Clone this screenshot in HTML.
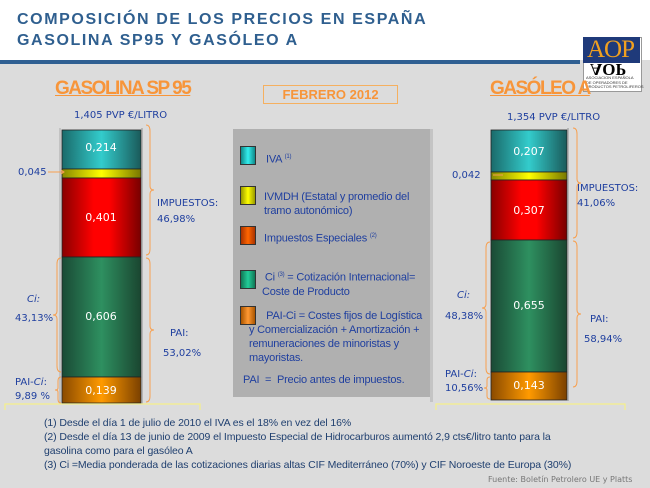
<!DOCTYPE html>
<html><head><meta charset="utf-8"><style>
html,body{margin:0;padding:0}
body{width:650px;height:488px;overflow:hidden;position:relative;background:#dcdcdc;font-family:"Liberation Sans",sans-serif}
.a{position:absolute;white-space:nowrap}
.c{font-family:"Comic Sans MS","DejaVu Sans",sans-serif;color:#1f3f9f;font-size:10px}
.lg{color:#1f3f9f;font-size:11px;line-height:14px;letter-spacing:-0.2px}
.sw{position:absolute;width:14px;height:17px;border:1px solid #333;left:240px}
.fn{color:#1f3f6f;font-size:10.5px;letter-spacing:-0.1px}
</style></head><body>
<div class="a" style="left:0;top:0;width:650px;height:60px;background:#fff"></div>
<div class="a" style="left:17px;top:9px;font-size:16px;font-weight:bold;color:#2f5f8f;letter-spacing:1.6px;line-height:21px">COMPOSICIÓN DE LOS PRECIOS EN ESPAÑA<br>GASOLINA SP95 Y GASÓLEO A</div>
<div class="a" style="left:0;top:60px;width:580px;height:4px;background:#2f5f92"></div>
<div class="a" style="left:583px;top:37px;width:57px;height:53px;background:#fff;border:1px solid #999"></div>
<div class="a" style="left:583px;top:37px;width:57px;height:26px;background:#1f3a7a"></div>
<div class="a" style="left:587px;top:36px;font-family:'Liberation Serif',serif;font-size:25px;color:#f0a020;letter-spacing:-1px">AOP</div>
<div class="a" style="left:590px;top:59px;font-family:'Liberation Serif',serif;font-size:17px;font-weight:bold;color:#000;transform:scaleY(-1)">AOP</div>
<div class="a" style="left:586px;top:76px;font-size:4px;color:#333;line-height:4.5px">ASOCIACION ESPAÑOLA<br>DE OPERADORES DE<br>PRODUCTOS PETROLIFEROS</div>

<div class="a" style="left:55px;top:78px;font-size:19px;font-weight:bold;color:#f7953a;letter-spacing:-1.5px;text-decoration:underline">GASOLINA SP 95</div>
<div class="a" style="left:490px;top:78px;font-size:19px;font-weight:bold;color:#f7953a;letter-spacing:-1.5px;text-decoration:underline">GASÓLEO A</div>
<div class="a" style="left:263px;top:85px;width:133px;height:17px;border:1px solid #f5b060;color:#f7953a;font-size:13px;font-weight:bold;text-align:center;line-height:17px">FEBRERO 2012</div>
<div class="a c" style="left:74px;top:110px">1,405 PVP €/LITRO</div>
<div class="a c" style="left:507px;top:112px">1,354 PVP €/LITRO</div>

<svg class="a" style="left:0;top:0" width="650" height="488">
<defs>
<linearGradient id="gc" x1="0" x2="1"><stop offset="0" stop-color="#1a6a6a"/><stop offset=".5" stop-color="#33cccc"/><stop offset="1" stop-color="#1a5a5a"/></linearGradient>
<linearGradient id="gy" x1="0" x2="1"><stop offset="0" stop-color="#888800"/><stop offset=".5" stop-color="#ffff00"/><stop offset="1" stop-color="#777700"/></linearGradient>
<linearGradient id="gr" x1="0" x2="1"><stop offset="0" stop-color="#880000"/><stop offset=".4" stop-color="#ff0000"/><stop offset=".6" stop-color="#ff0000"/><stop offset="1" stop-color="#770000"/></linearGradient>
<linearGradient id="gg" x1="0" x2="1"><stop offset="0" stop-color="#1a4a35"/><stop offset=".5" stop-color="#2e9060"/><stop offset="1" stop-color="#1a4530"/></linearGradient>
<linearGradient id="go" x1="0" x2="1"><stop offset="0" stop-color="#8a4a00"/><stop offset=".5" stop-color="#ff9a00"/><stop offset="1" stop-color="#7a4000"/></linearGradient>
</defs>
<rect x="233" y="129" width="199" height="268" fill="#b0b0b0"/>
<rect x="430" y="129" width="3" height="273" fill="#c4c4c4"/>
<g stroke="#222" stroke-width="0.8">
<rect x="62" y="130" width="79" height="39" fill="url(#gc)"/>
<rect x="62" y="169" width="79" height="9" fill="url(#gy)"/>
<rect x="62" y="178" width="79" height="79" fill="url(#gr)"/>
<rect x="62" y="257" width="79" height="120" fill="url(#gg)"/>
<rect x="62" y="377" width="79" height="26" fill="url(#go)"/>
<rect x="491" y="130" width="76" height="42" fill="url(#gc)"/>
<rect x="491" y="172" width="76" height="8" fill="url(#gy)"/>
<rect x="491" y="180" width="76" height="60" fill="url(#gr)"/>
<rect x="491" y="240" width="76" height="132" fill="url(#gg)"/>
<rect x="491" y="372" width="76" height="28" fill="url(#go)"/>
</g>
<line x1="142" y1="128" x2="142" y2="404" stroke="#aaa" stroke-width="1.5"/>
<line x1="60" y1="128" x2="60" y2="404" stroke="#aaa" stroke-width="1"/>
<line x1="568" y1="128" x2="568" y2="401" stroke="#aaa" stroke-width="1.5"/>
<g fill="none" stroke="#f7a050" stroke-width="1">
<path d="M146,125 q4,0 4,6 v55 q0,4 4,4 q-4,0 -4,4 v55 q0,6 -4,6"/>
<path d="M146,258 q4,0 4,6 v62 q0,4 4,4 q-4,0 -4,4 v62 q0,6 -4,6"/>
<path d="M61,258 q-4,0 -4,6 v47 q0,4 -4,4 q4,0 4,4 v47 q0,6 4,6"/>
<path d="M61,377 q-3,0 -3,4 v7 q0,2 -3,2 q3,0 3,2 v7 q0,4 3,4"/>
<path d="M573,128 q4,0 4,6 v45 q0,4 4,4 q-4,0 -4,4 v45 q0,6 -4,6"/>
<path d="M573,241 q4,0 4,6 v63 q0,4 4,4 q-4,0 -4,4 v63 q0,6 -4,6"/>
<path d="M490,242 q-4,0 -4,6 v56 q0,4 -4,4 q4,0 4,4 v56 q0,6 4,6"/>
<path d="M490,377 q-3,0 -3,3 v6 q0,2 -3,2 q3,0 3,2 v6 q0,3 3,3"/>
<path d="M48,172 H64 M61,170 L64,172 L61,174"/>
<path d="M493,175 H503"/>
</g>
<g fill="none" stroke="#f5f08a" stroke-width="1.2">
<path d="M5,410 V404 H200 V410"/>
<path d="M436,410 V404 H625 V410"/>
</g>
<g fill="#fff" font-family="Comic Sans MS, DejaVu Sans, sans-serif" font-size="11" text-anchor="middle">
<text x="101" y="151">0,214</text><text x="101" y="221">0,401</text><text x="101" y="320">0,606</text><text x="101" y="394">0,139</text>
<text x="529" y="155">0,207</text><text x="529" y="214">0,307</text><text x="529" y="309">0,655</text><text x="529" y="389">0,143</text>
</g>
</svg>

<div class="a c" style="left:18px;top:167px">0,045</div>
<div class="a c" style="left:452px;top:170px">0,042</div>
<div class="a c" style="left:157px;top:196px;line-height:16px">IMPUESTOS:<br>46,98%</div>
<div class="a c" style="left:577px;top:181px;line-height:15px">IMPUESTOS:<br>41,06%</div>
<div class="a c" style="left:27px;top:294px;font-style:italic">Ci:</div>
<div class="a c" style="left:15px;top:313px">43,13%</div>
<div class="a c" style="left:170px;top:328px">PAI:</div>
<div class="a c" style="left:163px;top:348px">53,02%</div>
<div class="a c" style="left:15px;top:376px;line-height:14px">PAI-<i>Ci</i>:<br>9,89 %</div>
<div class="a c" style="left:457px;top:290px;font-style:italic">Ci:</div>
<div class="a c" style="left:445px;top:311px">48,38%</div>
<div class="a c" style="left:590px;top:314px">PAI:</div>
<div class="a c" style="left:584px;top:334px">58,94%</div>
<div class="a c" style="left:445px;top:368px;line-height:14px">PAI-<i>Ci</i>:<br>10,56%</div>

<div class="sw" style="top:146px;background:linear-gradient(90deg,#188,#3ee,#188)"></div>
<div class="sw" style="top:186px;background:linear-gradient(90deg,#990,#ff0,#990)"></div>
<div class="sw" style="top:226px;background:linear-gradient(90deg,#a30,#f60,#a30)"></div>
<div class="sw" style="top:270px;background:linear-gradient(90deg,#175,#2c9,#175)"></div>
<div class="sw" style="top:306px;background:linear-gradient(90deg,#a50,#f93,#a50)"></div>
<div class="a lg" style="left:266px;top:150px">IVA <sup style="font-size:6px">(1)</sup></div>
<div class="a lg" style="left:264px;top:190px">IVMDH (Estatal y promedio del<br>tramo autonómico)</div>
<div class="a lg" style="left:264px;top:229px">Impuestos Especiales <sup style="font-size:6px">(2)</sup></div>
<div class="a lg" style="left:262px;top:268px">&nbsp;Ci <sup style="font-size:6px">(3)</sup> = Cotización Internacional=<br>Coste de Producto</div>
<div class="a lg" style="left:249px;top:309px">&nbsp;&nbsp;&nbsp;&nbsp;&nbsp;&nbsp;PAI-Ci = Costes fijos de Logística<br>y Comercialización + Amortización +<br>remuneraciones de minoristas y<br>mayoristas.</div>
<div class="a lg" style="left:243px;top:373px">PAI&nbsp; = &nbsp;Precio antes de impuestos.</div>

<div class="a fn" style="left:44px;top:416px;line-height:14px">(1) Desde el día 1 de julio de 2010 el IVA es el 18% en vez del 16%<br>(2) Desde el día 13 de junio de 2009 el Impuesto Especial de Hidrocarburos aumentó 2,9 cts€/litro tanto para la<br>gasolina como para el gasóleo A<br>(3) Ci =Media ponderada de las cotizaciones diarias altas CIF Mediterráneo (70%) y CIF Noroeste de Europa (30%)</div>
<div class="a" style="left:488px;top:475px;font-size:8px;color:#777;font-family:'DejaVu Sans',sans-serif">Fuente: Boletín Petrolero UE y Platts</div>
</body></html>
